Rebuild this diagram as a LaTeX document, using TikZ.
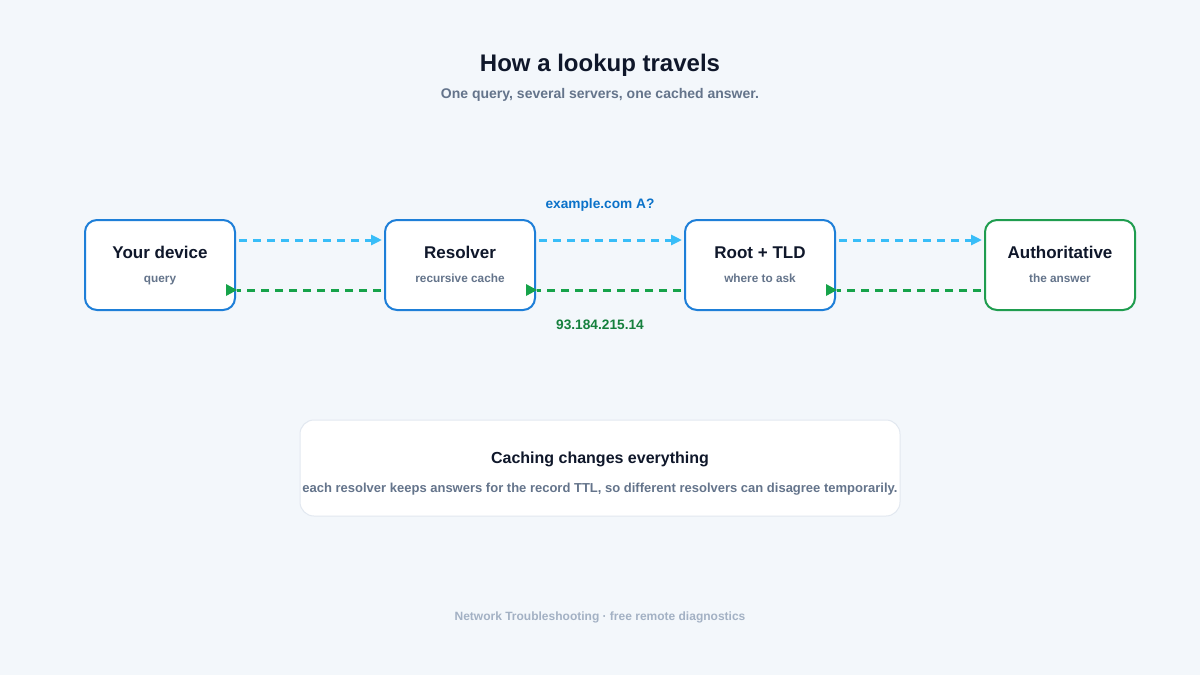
\documentclass[tikz,border=0pt]{standalone}
\usepackage{fontspec}
\setmainfont{Liberation Sans}
\usetikzlibrary{arrows.meta}
\definecolor{bg}{HTML}{F3F7FB}
\definecolor{ink}{HTML}{0F172A}
\definecolor{muted}{HTML}{64748B}
\definecolor{faint}{HTML}{A3B1C4}
\definecolor{boxblue}{HTML}{1E7FD8}
\definecolor{boxgreen}{HTML}{1F9D4F}
\definecolor{reqline}{HTML}{38BDF8}
\definecolor{resline}{HTML}{16A34A}
\definecolor{reqtext}{HTML}{0B72C9}
\definecolor{restext}{HTML}{15803D}
\definecolor{cardline}{HTML}{E2E8F0}
\tikzset{
  stagebox/.style={draw=boxblue, line width=2pt, fill=white, rounded corners=12pt,
    minimum width=150pt, minimum height=90pt, inner sep=0pt},
  stagetitle/.style={font=\bfseries\fontsize{17}{20}\selectfont, text=ink, inner sep=0pt, anchor=base},
  stagesub/.style={font=\bfseries\fontsize{11.8}{14}\selectfont, text=muted, inner sep=0pt, anchor=base},
  reqarrow/.style={draw=reqline, line width=3pt, dash pattern=on 8pt off 6pt,
    -{Triangle[length=11pt,width=10pt,fill=reqline]}},
  resarrow/.style={draw=resline, line width=3pt, dash pattern=on 8pt off 6pt},
  restip/.style={fill=resline},
  plain/.style={inner sep=0pt, anchor=base},
}
\begin{document}
\begin{tikzpicture}[x=1pt,y=-1pt]
\useasboundingbox[fill=bg] (0,0) rectangle (1200,675);

\node[plain, font=\bfseries\fontsize{24}{28}\selectfont, text=ink] (title) at (600,71) {How a lookup travels};
\node[plain, font=\bfseries\fontsize{14}{16}\selectfont, text=muted] (subtitle) at (600,98) {One query, several servers, one cached answer.};

\node[stagebox] (dev) at (160,265) {};
\node[stagebox] (res) at (460,265) {};
\node[stagebox] (root) at (760,265) {};
\node[stagebox, draw=boxgreen] (auth) at (1060,265) {};

\node[stagetitle] (devt) at ([yshift=7pt]dev.center) {Your device};
\node[stagesub] (devs) at ([yshift=-17pt]dev.center) {query};
\node[stagetitle] (rest) at ([yshift=7pt]res.center) {Resolver};
\node[stagesub] (ress) at ([yshift=-17pt]res.center) {recursive cache};
\node[stagetitle] (roott) at ([yshift=7pt]root.center) {Root + TLD};
\node[stagesub] (roots) at ([yshift=-17pt]root.center) {where to ask};
\node[stagetitle] (autht) at ([yshift=7pt]auth.center) {Authoritative};
\node[stagesub] (auths) at ([yshift=-17pt]auth.center) {the answer};

% requests
\draw[reqarrow] ([xshift=3pt,yshift=25pt]dev.east) -- ([xshift=-2pt,yshift=25pt]res.west);
\draw[reqarrow] ([xshift=3pt,yshift=25pt]res.east) -- ([xshift=-2pt,yshift=25pt]root.west);
\draw[reqarrow] ([xshift=3pt,yshift=25pt]root.east) -- ([xshift=-2pt,yshift=25pt]auth.west);

% responses
\draw[resarrow] ([xshift=-3pt,yshift=-25pt]res.west) -- ([xshift=1pt,yshift=-25pt]dev.east);
\draw[resarrow] ([xshift=-3pt,yshift=-25pt]root.west) -- ([xshift=1pt,yshift=-25pt]res.east);
\draw[resarrow] ([xshift=-3pt,yshift=-25pt]auth.west) -- ([xshift=1pt,yshift=-25pt]root.east);
\fill[restip] ([xshift=1pt,yshift=-25pt]dev.east) -- ++(-11,-6) -- ++(0,12) -- cycle;
\fill[restip] ([xshift=1pt,yshift=-25pt]res.east) -- ++(-11,-6) -- ++(0,12) -- cycle;
\fill[restip] ([xshift=1pt,yshift=-25pt]root.east) -- ++(-11,-6) -- ++(0,12) -- cycle;

\node[plain, font=\bfseries\fontsize{13.7}{16}\selectfont, text=reqtext] (qlabel) at (600,208) {example.com A?};
\node[plain, font=\bfseries\fontsize{13.7}{16}\selectfont, text=restext] (alabel) at (600,329) {93.184.215.14};

% caching card
\node[draw=cardline, line width=1pt, fill=white, rounded corners=14pt,
  minimum width=600pt, minimum height=96pt] (card) at (600,468) {};
\node[plain, font=\bfseries\fontsize{16}{19}\selectfont, text=ink] (cardt) at (600,463) {Caching changes everything};
\node[plain, font=\bfseries\fontsize{13}{15}\selectfont, text=muted] (cards) at (600,492) {each resolver keeps answers for the record TTL, so different resolvers can disagree temporarily.};

\node[plain, font=\bfseries\fontsize{12}{14}\selectfont, text=faint] (footer) at (600,620) {Network Troubleshooting · free remote diagnostics};
\end{tikzpicture}
\end{document}
